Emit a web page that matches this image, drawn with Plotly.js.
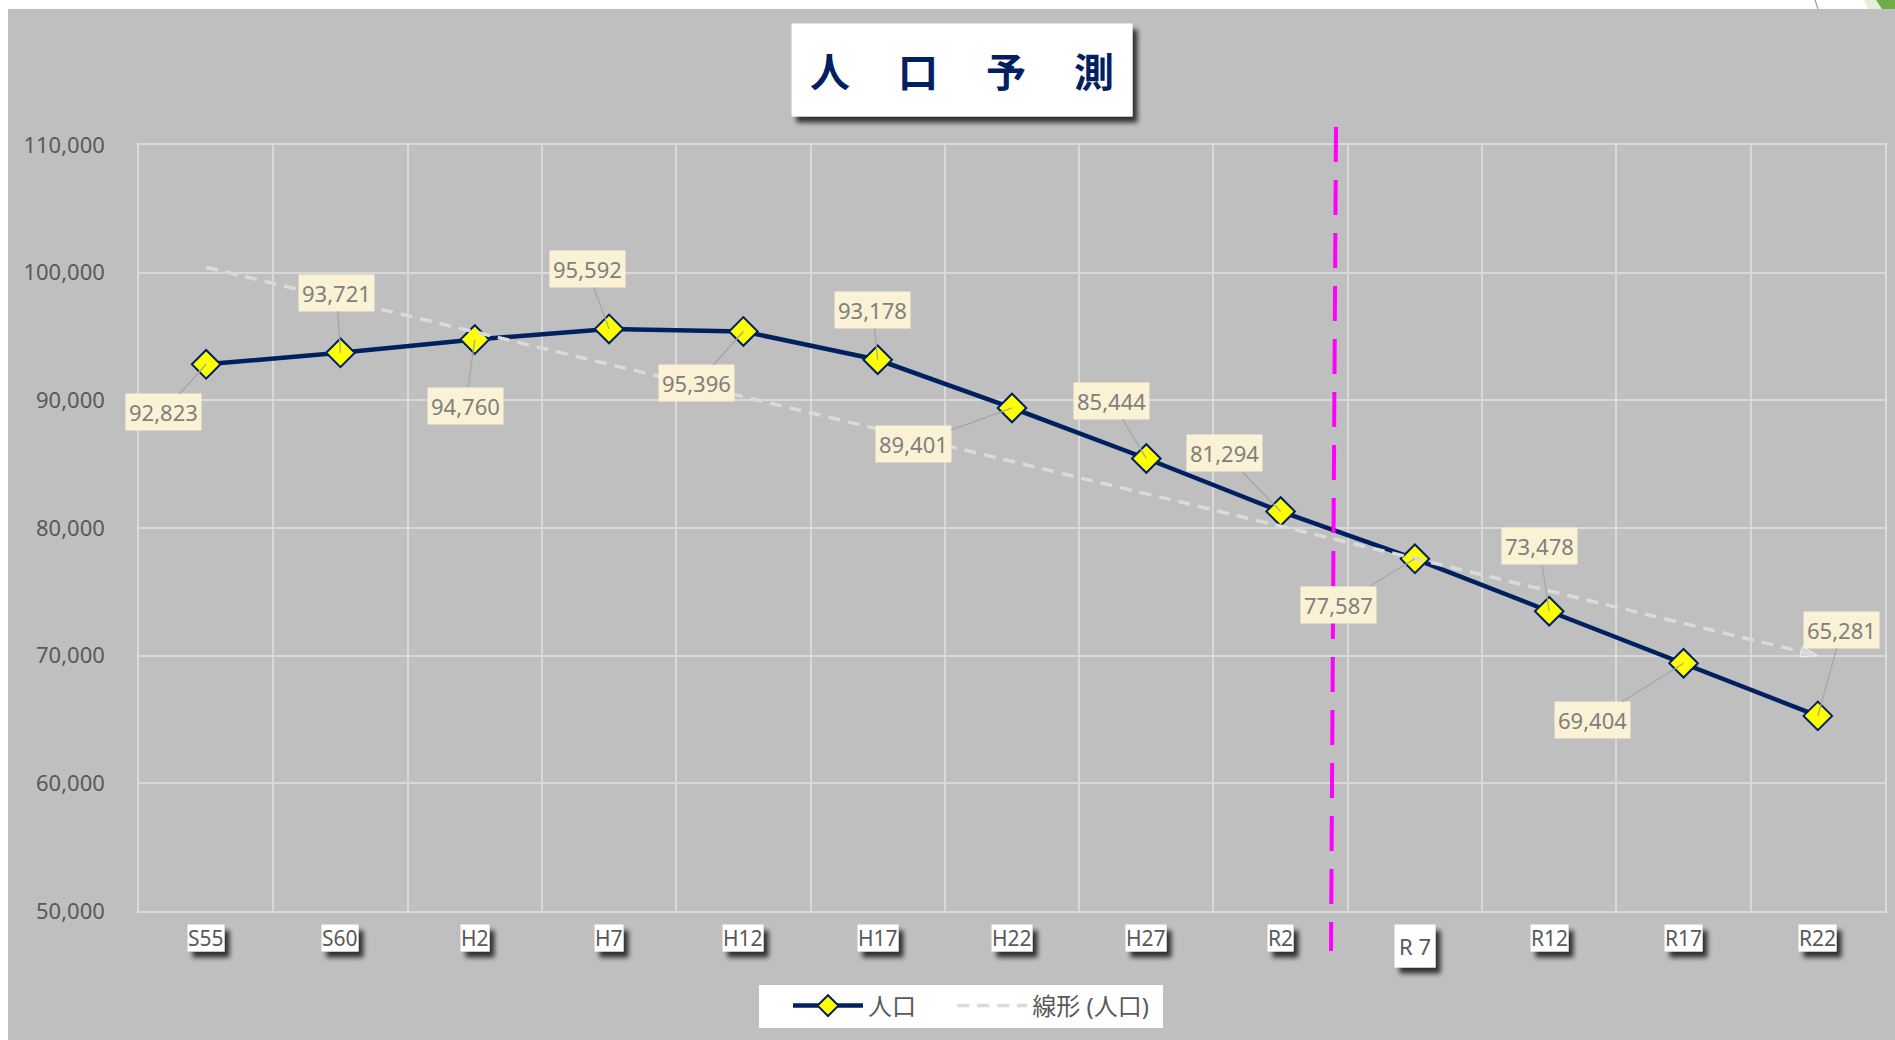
<!DOCTYPE html>
<html>
<head>
<meta charset="utf-8">
<script src="https://cdn.plot.ly/plotly-3.0.1.min.js"></script>
<style>
html, body { margin: 0; padding: 0; background: #fff; }
#chart { width: 1895px; height: 1040px; }
</style>
</head>
<body>
<svg width="0" height="0" style="position:absolute">
  <defs>
    <filter id="shd" x="-40%" y="-40%" width="200%" height="220%">
      <feGaussianBlur in="SourceAlpha" stdDeviation="2.5"/>
      <feOffset dx="5" dy="6"/>
      <feComponentTransfer><feFuncA type="linear" slope="0.75"/></feComponentTransfer>
      <feMerge><feMergeNode/><feMergeNode in="SourceGraphic"/></feMerge>
    </filter>
  </defs>
</svg>
<div id="chart"></div>
<script>
// categories (Showa / Heisei / Reiwa years)
var years = ['S55', 'S60', 'H2', 'H7', 'H12', 'H17', 'H22', 'H27', 'R2', 'R7', 'R12', 'R17', 'R22'];
var yearLabels = ['S55', 'S60', 'H2', 'H7', 'H12', 'H17', 'H22', 'H27', 'R2', 'R 7', 'R12', 'R17', 'R22'];
var population = [92823, 93721, 94760, 95592, 95396, 93178, 89401, 85444, 81294, 77587, 73478, 69404, 65281];

// linear trend line (at its two ends)
var trendYears = ['S55', 'R22'];
var trendValues = [100430, 70000];

// label offsets in px (ax, ay) from each point
var labelOffsets = [[-43, 48], [-4, -60], [-9, 66], [-22, -60], [-47, 52], [-5, -50], [-99, 36],
                    [-35, -58], [-56, -58], [-76, 46], [-10, -65], [-91, 57], [24, -86]];

// plot area in px
var L = 139, T = 145, W = 1746, H = 766;
function PX(p) { return (p - L) / W; }
function PY(p) { return (T + H - p) / H; }

var FONT = 'Noto Sans, Noto Sans CJK JP, sans-serif';

var pop = {
  x: years,
  y: population,
  name: '人口\u00a0\u00a0\u00a0\u00a0\u00a0',
  type: 'scatter',
  mode: 'lines+markers',
  line: { color: '#002060', width: 4.5 },
  marker: { symbol: 'diamond', size: 22, color: '#ffff00', line: { color: '#002060', width: 2 } },
  hoverinfo: 'x+y'
};

var trend = {
  x: trendYears,
  y: trendValues,
  name: '線形 (人口)',
  type: 'scatter',
  mode: 'lines',
  line: { color: '#dadada', width: 3.5, dash: '12px,8px' },
  hoverinfo: 'skip'
};

var trendHead = {
  x: trendYears,
  y: trendValues,
  type: 'scatter',
  mode: 'markers',
  showlegend: false,
  marker: { symbol: 'arrow', angleref: 'previous', size: [0, 18], color: '#dadada' },
  hoverinfo: 'skip'
};

var annotations = [];
var shadowed = [];

// x tick labels in white boxes
years.forEach(function (yr, i) {
  var isR7 = yr === 'R7';
  shadowed.push(annotations.length);
  annotations.push({
    x: yr, xref: 'x', y: PY(isR7 ? 946 : 938), yref: 'paper',
    text: yearLabels[i], showarrow: false,
    font: { family: FONT, size: isR7 ? 22 : 21, color: '#595959' },
    bgcolor: '#ffffff', borderpad: 0,
    height: isR7 ? 42 : 26, width: isR7 ? 40 : null,
    xanchor: 'center', yanchor: 'middle'
  });
});

// title box
shadowed.push(annotations.length);
annotations.push({
  x: PX(962), y: PY(70), xref: 'paper', yref: 'paper',
  text: '<b>人\u3000\u2009口\u3000\u2009予\u3000\u2009測</b>', showarrow: false,
  font: { family: 'Noto Sans CJK JP, sans-serif', size: 40, color: '#002060' },
  bgcolor: '#ffffff', borderpad: 0, width: 340, height: 92,
  xanchor: 'center', yanchor: 'middle'
});

// data labels
population.forEach(function (v, i) {
  annotations.push({
    x: years[i], y: v, xref: 'x', yref: 'y',
    text: v.toLocaleString('en-US'),
    showarrow: true, arrowhead: 0, arrowwidth: 1.3, arrowcolor: '#a6a6a6', standoff: 0,
    ax: labelOffsets[i][0], ay: labelOffsets[i][1],
    font: { family: FONT, size: 22, color: '#7f7f7f' },
    bgcolor: '#fbf1d4', borderpad: 3
  });
});

var shapes = [
  // white page strips left and top
  { type: 'rect', xref: 'paper', yref: 'paper', x0: PX(0), x1: PX(8), y0: PY(1040), y1: PY(0),
    fillcolor: '#ffffff', line: { width: 0 }, layer: 'below' },
  { type: 'rect', xref: 'paper', yref: 'paper', x0: PX(0), x1: PX(1895), y0: PY(9), y1: PY(0),
    fillcolor: '#ffffff', line: { width: 0 }, layer: 'below' },
  // bits of slide decoration at the top right
  { type: 'path', xref: 'paper', yref: 'paper',
    path: 'M' + PX(1815) + ',' + PY(0) + ' L' + PX(1818) + ',' + PY(9),
    line: { color: '#9a9a9a', width: 1.2 } },
  { type: 'path', xref: 'paper', yref: 'paper',
    path: 'M' + PX(1864) + ',' + PY(0) + ' L' + PX(1895) + ',' + PY(0) + ' L' + PX(1895) + ',' + PY(9) +
          ' L' + PX(1868) + ',' + PY(9) + ' Z',
    fillcolor: '#e2efd9', line: { width: 0 } },
  { type: 'path', xref: 'paper', yref: 'paper',
    path: 'M' + PX(1876) + ',' + PY(0) + ' L' + PX(1895) + ',' + PY(0) + ' L' + PX(1895) + ',' + PY(9) +
          ' L' + PX(1882) + ',' + PY(9) + ' Z',
    fillcolor: '#70ad47', line: { width: 0 } },
  // legend box (white panel behind the transparent legend)
  { type: 'rect', xref: 'paper', yref: 'paper', x0: PX(759), x1: PX(1163), y0: PY(1028), y1: PY(985),
    fillcolor: '#ffffff', line: { width: 0 } },
  // magenta divider between actual and projected
  { type: 'line', xref: 'paper', yref: 'paper', x0: PX(1336), y0: PY(127), x1: PX(1331), y1: PY(951),
    line: { color: '#ff00ff', width: 4, dash: '35px,18px' } }
];

var layout = {
  width: 1895,
  height: 1040,
  margin: { l: L, r: 1895 - L - W, t: T, b: 1040 - T - H },
  paper_bgcolor: '#bfbfbf',
  plot_bgcolor: '#bfbfbf',
  font: { family: FONT, color: '#595959' },
  showlegend: true,
  legend: {
    orientation: 'h', x: PX(788), y: PY(1006), xanchor: 'left', yanchor: 'middle',
    bgcolor: 'rgba(0,0,0,0)', font: { family: FONT, size: 24, color: '#595959' },
    itemwidth: 70, traceorder: 'normal'
  },
  xaxis: {
    type: 'category',
    range: [-0.5, 12.5],
    tickson: 'boundaries',
    showticklabels: false,
    ticks: '',
    showgrid: true, gridcolor: '#d9d9d9', gridwidth: 1.5,
    showline: true, linecolor: '#d9d9d9', linewidth: 1.5, mirror: true,
    zeroline: false, fixedrange: true
  },
  yaxis: {
    range: [50000, 110000],
    dtick: 10000,
    tickformat: ',d',
    ticks: '',
    ticklabelstandoff: 28,
    tickfont: { family: FONT, size: 22, color: '#595959' },
    showgrid: true, gridcolor: '#d9d9d9', gridwidth: 1.5,
    showline: true, linecolor: '#d9d9d9', linewidth: 1.5, mirror: true,
    zeroline: false, fixedrange: true
  },
  annotations: annotations,
  shapes: shapes
};

var config = { responsive: false, displayModeBar: false };

Plotly.newPlot('chart', [pop, trend, trendHead], layout, config).then(function (gd) {
  shadowed.forEach(function (idx) {
    var rect = gd.querySelector('g.annotation[data-index="' + idx + '"] rect.bg');
    if (rect) rect.setAttribute('filter', 'url(#shd)');
  });
});
</script>
</body>
</html>
